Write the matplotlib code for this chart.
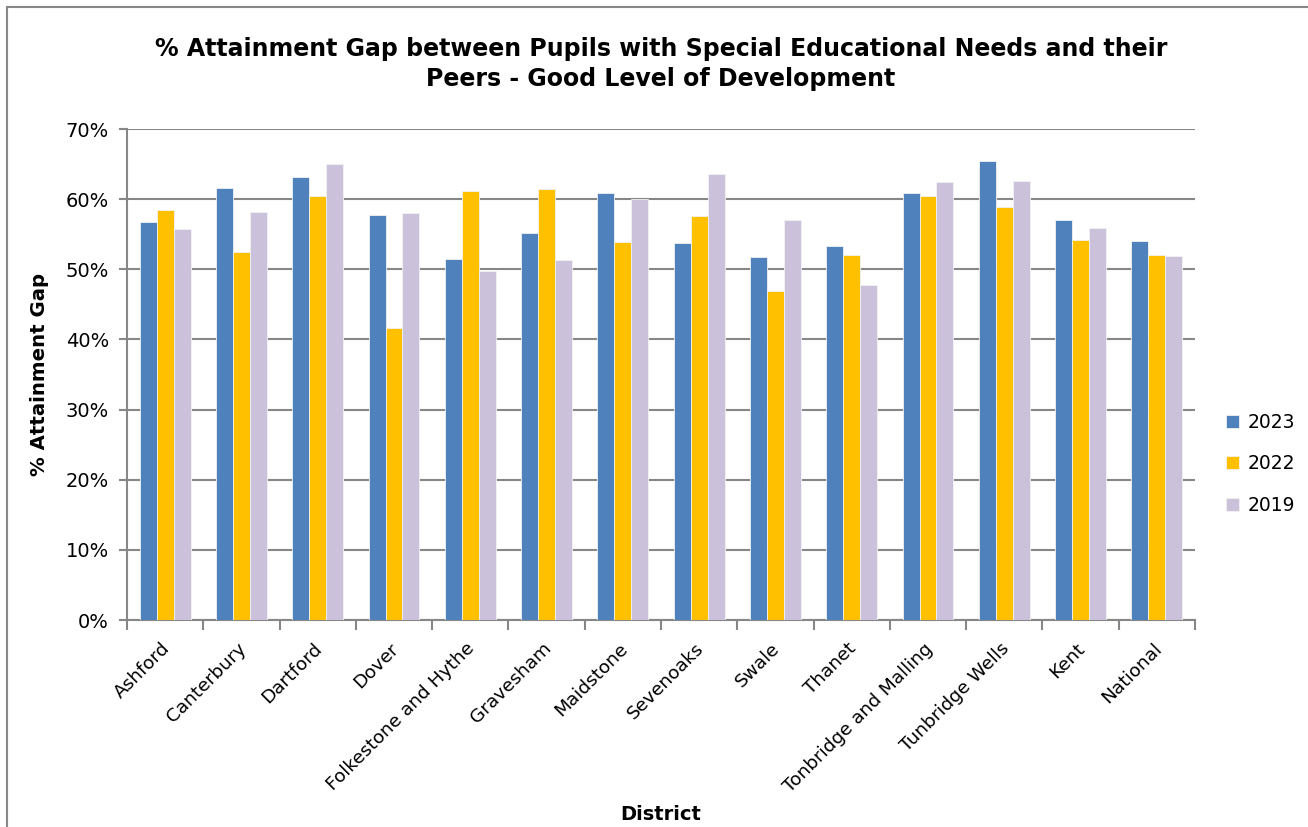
import matplotlib.pyplot as plt
import numpy as np
from matplotlib.patches import Rectangle
from matplotlib.ticker import FuncFormatter, FixedLocator

districts = ['Ashford', 'Canterbury', 'Dartford', 'Dover', 'Folkestone and Hythe',
             'Gravesham', 'Maidstone', 'Sevenoaks', 'Swale', 'Thanet',
             'Tonbridge and Malling', 'Tunbridge Wells', 'Kent', 'National']
gap_2023 = [56.7, 61.6, 63.1, 57.8, 51.4, 55.2, 60.9, 53.7, 51.7, 53.3, 60.9, 65.5, 57.0, 54.1]
gap_2022 = [58.4, 52.4, 60.4, 41.7, 61.2, 61.5, 53.9, 57.6, 46.9, 52.1, 60.5, 58.9, 54.2, 52.0]
gap_2019 = [55.7, 58.2, 65.0, 58.0, 49.8, 51.3, 60.0, 63.6, 57.0, 47.8, 62.4, 62.6, 55.9, 51.9]
years = ['2023', '2022', '2019']
colors = ['#4F81BD', '#FFC000', '#CCC1DA']

fig = plt.figure(figsize=(13.08, 8.27), dpi=100)
ax = fig.add_axes([0.0971, 0.2503, 0.8165, 0.5937])

# outer chart border
fig.patches.append(Rectangle((7 / 1308, -0.01), 1.0, 1 - 7 / 827 + 0.01,
                             transform=fig.transFigure, fill=False,
                             edgecolor='#888888', linewidth=1.5))

x = np.arange(len(districts))
w = 0.222
for i, (vals, lab, c) in enumerate(zip([gap_2023, gap_2022, gap_2019], years, colors)):
    ax.bar(x + (i - 1) * w, vals, w, color=c, label=lab,
           edgecolor='#f2f2f2', linewidth=0.6, zorder=3)

ax.set_xlim(-0.5, len(districts) - 0.5)
ax.set_ylim(0, 70)
ax.set_yticks(range(0, 71, 10))
ax.yaxis.set_major_formatter(FuncFormatter(lambda v, p: f'{int(v)}%'))
ax.grid(axis='y', color='#878787', linewidth=1.5, zorder=0)

# category ticks between groups, labels near centres (nudged a bit left)
ax.xaxis.set_major_locator(FixedLocator(np.arange(-0.5, len(districts), 1.0)))
ax.xaxis.set_minor_locator(FixedLocator(x - 0.06))
ax.set_xticklabels([])
ax.set_xticklabels(districts, minor=True, rotation=45, ha='right',
                   rotation_mode='anchor', fontsize=13.3)
ax.tick_params(axis='x', which='major', length=7, color='#878787', width=1.5)
ax.tick_params(axis='x', which='minor', length=0, pad=14)
ax.tick_params(axis='y', length=6, color='#878787', width=1.5, labelsize=14, pad=7)

for s in ['top', 'right']:
    ax.spines[s].set_visible(False)
for s in ['left', 'bottom']:
    ax.spines[s].set_color('#878787')
    ax.spines[s].set_linewidth(1.5)

ax.set_title('% Attainment Gap between Pupils with Special Educational Needs and their\n'
             'Peers - Good Level of Development', fontsize=17, fontweight='bold',
             pad=31, linespacing=1.3)
ax.set_ylabel('% Attainment Gap', fontsize=14.2, fontweight='bold', labelpad=12)
fig.text(0.505, 0.008, 'District', fontsize=14, fontweight='bold', ha='center')

ax.legend(loc='center left', bbox_to_anchor=(1.013, 0.318), frameon=False,
          fontsize=13.5, handlelength=0.7, handleheight=0.7, labelspacing=1.2,
          handletextpad=0.45)

fig.savefig('out.png', dpi=100)
